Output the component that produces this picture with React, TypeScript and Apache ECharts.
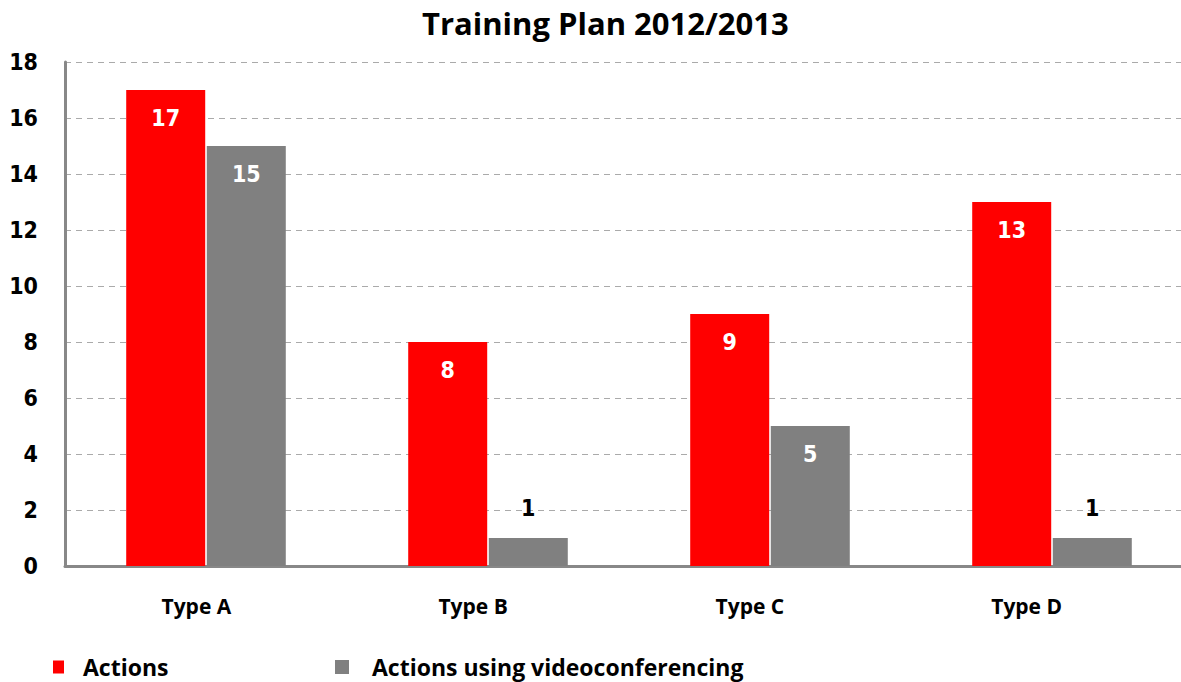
import React, { useEffect, useRef } from "react";
import * as echarts from "echarts";

const categories = ["Type A", "Type B", "Type C", "Type D"];
const actions = [17, 8, 9, 13];
const videoconf = [15, 1, 5, 1];
const titleText = "Training Plan 2012/2013";
const seriesNames = ["Actions", "Actions using videoconferencing"];

const NARROW = "'Liberation Sans Narrow', 'Arial Narrow', 'DejaVu Sans Condensed', 'Roboto', sans-serif";
const BOLDFONT = "'Open Sans', 'Noto Sans', sans-serif";

export default function App() {
  const ref = useRef<HTMLDivElement>(null);
  useEffect(() => {
    if (!ref.current) return;
    const chart = echarts.init(ref.current, null, { renderer: "svg" });
    const dataWithLabels = (vals: number[]) =>
      vals.map((v) =>
        v <= 2
          ? {
              value: v,
              label: {
                show: true,
                position: "top",
                distance: 19,
                color: "#000",
                fontFamily: NARROW,
                fontWeight: "bold",
                fontSize: 23,
              },
            }
          : { value: v }
      );
    const legendText = {
      fontFamily: BOLDFONT,
      fontWeight: "bold",
      fontSize: 23,
      lineHeight: 24,
      color: "#000",
    };
    chart.setOption({
      animation: false,
      title: {
        text: titleText,
        left: 422,
        top: 6,
        padding: 0,
        textStyle: { fontFamily: BOLDFONT, fontWeight: "bold", fontSize: 31, lineHeight: 33, color: "#000" },
      },
      legend: [
        {
          data: [seriesNames[0]],
          left: 53,
          top: 655,
          padding: 0,
          itemWidth: 11,
          itemHeight: 13,
          icon: "rect",
          textStyle: { ...legendText, padding: [0, 0, 0, 14] },
        },
        {
          data: [seriesNames[1]],
          left: 335,
          top: 655,
          padding: 0,
          itemWidth: 14,
          itemHeight: 14,
          icon: "rect",
          textStyle: { ...legendText, padding: [0, 0, 0, 18] },
        },
      ],
      grid: [
        { left: 65, right: 0, top: 62, bottom: 116 },
        { left: 58, right: 28, top: 62, bottom: 116 },
      ],
      xAxis: [
        {
          type: "category",
          gridIndex: 0,
          data: categories,
          axisLine: { show: true, lineStyle: { color: "#888", width: 3 } },
          axisTick: { show: false },
          axisLabel: { show: false },
        },
        {
          type: "category",
          gridIndex: 1,
          data: categories,
          axisLine: { show: false },
          axisTick: { show: false },
          axisLabel: {
            show: true,
            margin: 29,
            fontFamily: BOLDFONT,
            fontWeight: "bold",
            fontSize: 21,
            color: "#000",
          },
        },
      ],
      yAxis: [
        {
          type: "value",
          gridIndex: 0,
          min: 0,
          max: 18,
          interval: 2,
          axisLine: { show: true, lineStyle: { color: "#888", width: 3 } },
          axisTick: { show: false },
          axisLabel: {
            margin: 27,
            fontFamily: NARROW,
            fontWeight: "bold",
            fontSize: 23,
            color: "#000",
          },
          splitLine: { show: true, lineStyle: { color: "#aaa", type: [6, 5], width: 1 } },
        },
        {
          type: "value",
          gridIndex: 1,
          min: 0,
          max: 18,
          show: false,
        },
      ],
      series: [
        {
          name: seriesNames[0],
          type: "bar",
          xAxisIndex: 0,
          yAxisIndex: 0,
          barWidth: 79,
          barGap: "2%",
          itemStyle: { color: "#ff0000" },
          label: {
            show: true,
            position: "insideTop",
            distance: 16,
            color: "#fff",
            fontFamily: NARROW,
            fontWeight: "bold",
            fontSize: 23,
          },
          data: dataWithLabels(actions),
        },
        {
          name: seriesNames[1],
          type: "bar",
          xAxisIndex: 0,
          yAxisIndex: 0,
          barWidth: 79,
          barGap: "2%",
          itemStyle: { color: "#808080" },
          label: {
            show: true,
            position: "insideTop",
            distance: 16,
            color: "#fff",
            fontFamily: NARROW,
            fontWeight: "bold",
            fontSize: 23,
          },
          data: dataWithLabels(videoconf),
        },
      ],
    });
    return () => chart.dispose();
  }, []);
  return (
    <div style={{ width: 1181, height: 682, position: "absolute", left: 0, top: 0, overflow: "hidden" }}>
      <div ref={ref} style={{ width: 1193, height: 682 }} />
    </div>
  );
}
